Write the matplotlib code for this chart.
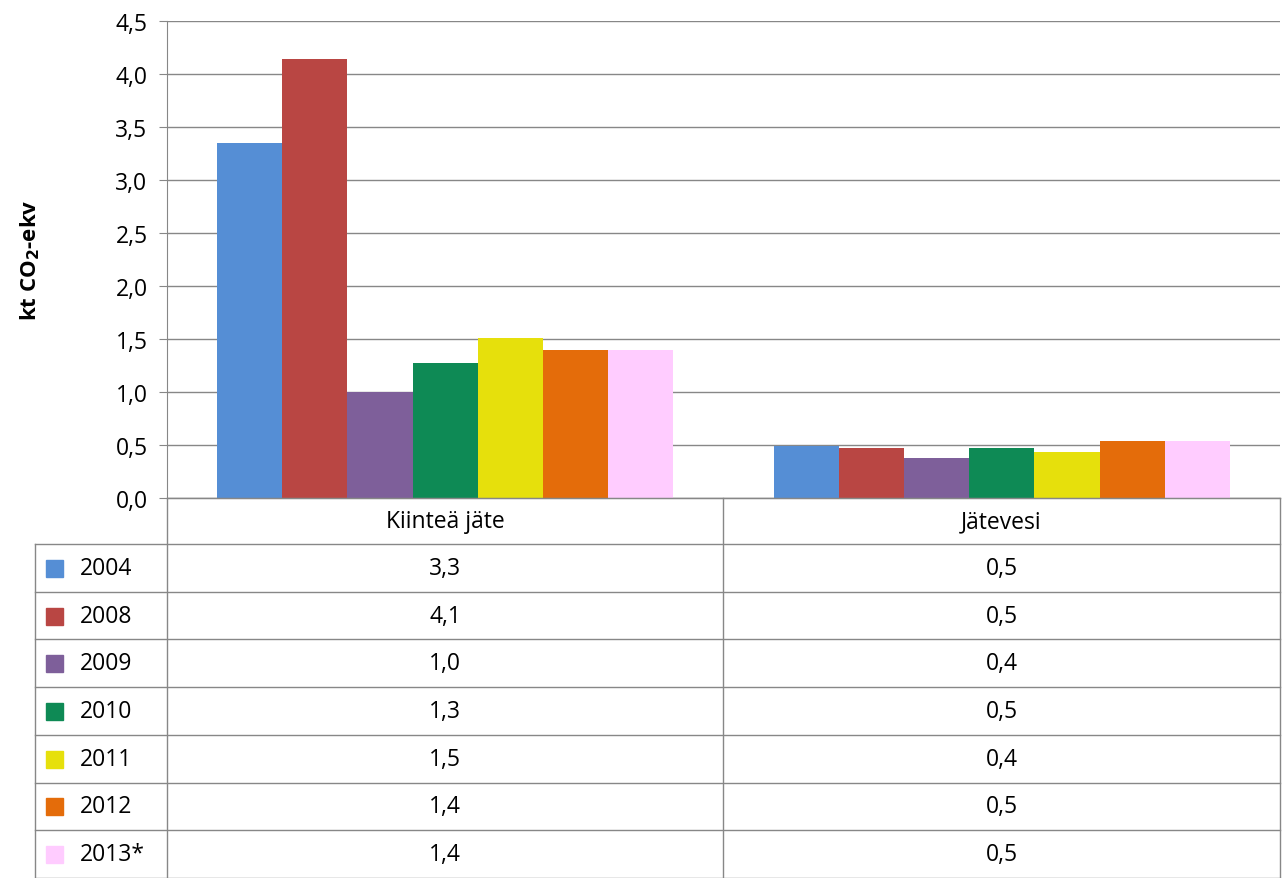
import matplotlib
import matplotlib.pyplot as plt
import numpy as np

matplotlib.use("Agg")
plt.rcParams["font.family"] = ["Open Sans", "DejaVu Sans"]

categories = ["Kiinteä jäte", "Jätevesi"]
years = ["2004", "2008", "2009", "2010", "2011", "2012", "2013*"]
values = [
    [3.35, 0.49],
    [4.14, 0.47],
    [1.00, 0.38],
    [1.27, 0.47],
    [1.51, 0.43],
    [1.40, 0.54],
    [1.40, 0.54],
]
table_text = [
    ["3,3", "0,5"],
    ["4,1", "0,5"],
    ["1,0", "0,4"],
    ["1,3", "0,5"],
    ["1,5", "0,4"],
    ["1,4", "0,5"],
    ["1,4", "0,5"],
]
colors = ["#558ED5", "#B94643", "#7E5F9A", "#0E8A55", "#E6E00C", "#E46C0A", "#FFCCFF"]

W, H = 1284, 879
fig = plt.figure(figsize=(W / 100, H / 100), dpi=100)

# pixel geometry
x0, x1 = 167, 1280
y_top, y_bot = 22, 499
ax = fig.add_axes([x0 / W, 1 - y_bot / H, (x1 - x0) / W, (y_bot - y_top) / H])

n = len(years)
bw = 0.82 / n
xc = np.arange(len(categories))
for i, (yr, col) in enumerate(zip(years, colors)):
    ax.bar(xc - 0.41 + bw * (i + 0.5), values[i], width=bw, color=col, zorder=2)

ax.set_xlim(-0.5, len(categories) - 0.5)
ax.set_ylim(0, 4.5)
ticks = np.arange(0, 4.51, 0.5)
ax.set_yticks(ticks)
ax.set_yticklabels([f"{t:.1f}".replace(".", ",") for t in ticks], fontsize=16.5)
ax.set_xticks([])
ax.grid(axis="y", color="#878787", linewidth=1, zorder=0)
for s in ["top", "right"]:
    ax.spines[s].set_visible(False)
ax.spines["left"].set_color("#878787")
ax.spines["bottom"].set_color("#878787")
ax.tick_params(axis="y", length=6, color="#878787", pad=8)
ax.set_ylabel("kt CO$_\\mathbf{2}$-ekv", fontsize=16, fontweight="bold")
ax.yaxis.set_label_coords(-0.112, 0.5)

# data table drawn underneath
tax = fig.add_axes([0, 0, 1, 1])
tax.set_xlim(0, W)
tax.set_ylim(H, 0)
tax.axis("off")
row_h = (H - 545) / n
rows_y = [545 + row_h * k for k in range(n + 1)]
lc = "#878787"
tax.plot([x0, x1], [y_bot, y_bot], color=lc, lw=1)
for y in rows_y:
    tax.plot([35, x1], [y, y], color=lc, lw=1)
tax.plot([35, 35], [545, H], color=lc, lw=1)
for x in [x0, 723, x1]:
    tax.plot([x, x], [y_bot, H], color=lc, lw=1)
centers = [(x0 + 723) / 2, (723 + x1) / 2]
for c, cat in zip(centers, categories):
    tax.text(c, (y_bot + 545) / 2, cat, ha="center", va="center", fontsize=16.5)
for k in range(n):
    yc = (rows_y[k] + rows_y[k + 1]) / 2
    tax.add_patch(plt.Rectangle((46, yc - 8), 17, 17, color=colors[k]))
    tax.text(80, yc, years[k], ha="left", va="center", fontsize=16.5)
    for c, t in zip(centers, table_text[k]):
        tax.text(c, yc, t, ha="center", va="center", fontsize=16.5)

fig.savefig("out.png", dpi=100)
